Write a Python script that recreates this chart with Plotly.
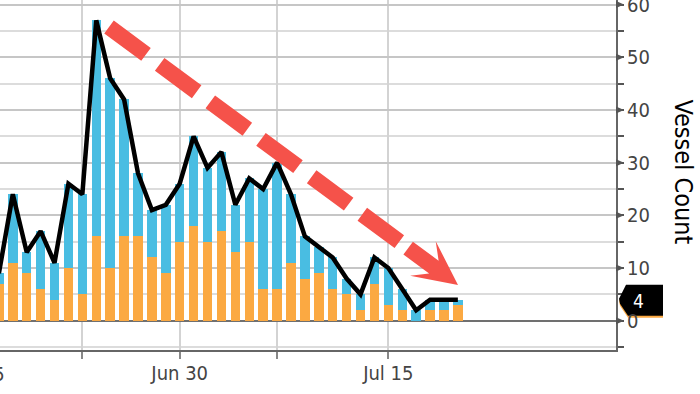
import math
import plotly.graph_objects as go

# ---- data ----
dates = ["2019-06-17", "2019-06-18", "2019-06-19", "2019-06-20", "2019-06-21", "2019-06-22",
         "2019-06-23", "2019-06-24", "2019-06-25", "2019-06-26", "2019-06-27", "2019-06-28",
         "2019-06-29", "2019-06-30", "2019-07-01", "2019-07-02", "2019-07-03", "2019-07-04",
         "2019-07-05", "2019-07-06", "2019-07-07", "2019-07-08", "2019-07-09", "2019-07-10",
         "2019-07-11", "2019-07-12", "2019-07-13", "2019-07-14", "2019-07-15", "2019-07-16",
         "2019-07-17", "2019-07-18", "2019-07-19", "2019-07-20"]
orange_counts = [7, 11, 9, 6, 4, 10, 5, 16, 10, 16, 16, 12, 9, 15, 18, 15, 17, 13,
                 15, 6, 6, 11, 8, 9, 6, 5, 2, 7, 3, 2, 0, 2, 2, 3]
blue_counts = [2, 13, 4, 11, 7, 16, 19, 41, 36, 26, 12, 9, 13, 11, 17, 14, 15, 9,
               12, 19, 24, 13, 8, 5, 6, 3, 3, 5, 7, 4, 2, 2, 2, 1]
total_counts = [o + b for o, b in zip(orange_counts, blue_counts)]

x_tickvals = ["2019-06-23", "2019-06-30", "2019-07-07", "2019-07-15"]
x_ticktext = ["", "Jun 30", "", "Jul 15"]
y_major = [0, 10, 20, 30, 40, 50, 60]

ORANGE = "#FBA942"
BLUE = "#49BDE2"
RED = "#F5524A"
FONT = "DejaVu Sans Condensed"

fig = go.Figure()
fig.add_trace(go.Bar(x=dates, y=orange_counts, marker=dict(color=ORANGE, line=dict(width=0))))
fig.add_trace(go.Bar(x=dates, y=blue_counts, marker=dict(color=BLUE, line=dict(width=0))))
fig.add_trace(go.Scatter(x=dates, y=total_counts, mode="lines",
                         line=dict(color="black", width=4.5)))

shapes = []
# red dashed arrow (pixel offsets relative to the tip)
tip_x, tip_y = "2019-07-20 00:15", 6.78
sx, sy = -349.0, -258.0  # screen offset of the start from the tip
L = math.hypot(sx, sy)
ux, uy = -sx / L, -sy / L
nx, ny = -uy, ux


def px(a, p):
    X = a * ux + p * nx
    Y = a * uy + p * ny
    return X, -Y


shapes.append(dict(type="line", xref="x", yref="y", xsizemode="pixel", ysizemode="pixel",
                   xanchor=tip_x, yanchor=tip_y,
                   x0=sx, y0=-sy, x1=px(-62, 0)[0], y1=px(-62, 0)[1],
                   line=dict(color=RED, width=16, dash="46px,17px"), layer="above"))
head = [(0, 0), (-44, 21), (-30, 8), (-62, 8), (-62, -8), (-30, -8), (-44, -22)]
pts = [px(a, p) for a, p in head]
path = "M" + " L".join(f"{x:.1f},{y:.1f}" for x, y in pts) + " Z"
shapes.append(dict(type="path", xref="x", yref="y", xsizemode="pixel", ysizemode="pixel",
                   xanchor=tip_x, yanchor=tip_y, path=path,
                   fillcolor=RED, line=dict(width=0), layer="above"))

# triangle markers at major y ticks
for v in y_major:
    shapes.append(dict(type="path", xref="paper", yref="y", xsizemode="pixel", ysizemode="pixel",
                       xanchor=1, yanchor=v, path="M0,3.5 L8,0 L0,-3.5 Z",
                       fillcolor="#555555", line=dict(width=0)))

# last value tag
last = total_counts[-1]
tag = [(10, -15), (3, -1), (4, 4), (12, 16), (47, 16), (47, -15)]


def tagpath(dy):
    return "M" + " L".join(f"{x},{-(y + dy)}" for x, y in tag) + " Z"


shapes.append(dict(type="path", xref="paper", yref="y", xsizemode="pixel", ysizemode="pixel",
                   xanchor=1, yanchor=last, path=tagpath(2), fillcolor=ORANGE, line=dict(width=0)))
shapes.append(dict(type="path", xref="paper", yref="y", xsizemode="pixel", ysizemode="pixel",
                   xanchor=1, yanchor=last, path=tagpath(0), fillcolor="black", line=dict(width=0)))

annotations = []
# right y tick labels
for v in y_major:
    annotations.append(dict(text=str(v), xref="paper", yref="y", x=1, y=v, xshift=9,
                            xanchor="left", yanchor="middle", showarrow=False,
                            font=dict(family=FONT, size=20, color="#444444")))
annotations += [
    dict(text=str(last), xref="paper", yref="y", x=1, y=last, xshift=22, yshift=-1,
         xanchor="center", yanchor="middle", showarrow=False,
         font=dict(family=FONT, size=19, color="white")),
    dict(text="Vessel Count", xref="paper", yref="paper", x=1, y=0.51, xshift=67,
         xanchor="center", yanchor="middle",
         textangle=90, showarrow=False, font=dict(family=FONT, size=25, color="black")),
    dict(text="Jun 15", xref="paper", yref="paper", x=0, y=0, yshift=-24, xshift=7,
         xanchor="right", yanchor="middle", showarrow=False,
         font=dict(family=FONT, size=20, color="#444444")),
]

fig.update_layout(
    width=700, height=394,
    margin=dict(l=0, r=84, t=0, b=44),
    barmode="stack", bargap=0.32,
    showlegend=False,
    plot_bgcolor="white", paper_bgcolor="white",
    shapes=shapes, annotations=annotations,
    xaxis=dict(type="date", range=["2019-06-17 01:54", "2019-07-31 08:53"],
               tickvals=x_tickvals, ticktext=x_ticktext,
               ticks="outside", ticklen=7, tickcolor="#888888", tickwidth=1.5,
               ticklabelstandoff=-3,
               showgrid=True, gridcolor="#d3d3d3", gridwidth=1.5,
               showline=True, linecolor="#666666", linewidth=2,
               tickfont=dict(family=FONT, size=20, color="#444444")),
    yaxis=dict(side="right", range=[-5.56, 60.87], tickvals=y_major, showticklabels=False,
               ticks="",
               showgrid=True, gridcolor="#c6c6c6", gridwidth=1.5,
               minor=dict(dtick=5, tick0=0, showgrid=True, gridcolor="#dcdcdc", gridwidth=1.5,
                          ticks="outside", ticklen=6, tickcolor="#555555", tickwidth=1.5),
               zeroline=True, zerolinecolor="#707070", zerolinewidth=2,
               showline=True, linecolor="#666666", linewidth=2),
)

fig.write_html("out.html")
